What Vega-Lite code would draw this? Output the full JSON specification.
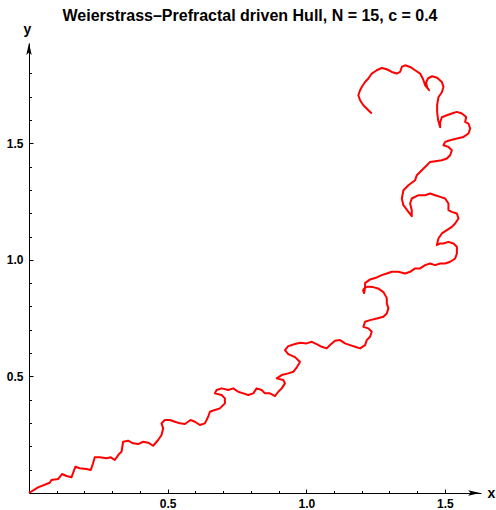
{
  "$schema": "https://vega.github.io/schema/vega-lite/v6.json",
  "autosize": "none",
  "width": 452,
  "height": 450,
  "padding": {"left": 29, "top": 43, "right": 15, "bottom": 17},
  "background": "white",
  "config": {"view": {"stroke": null}},
  "title": {
    "text": "Weierstrass–Prefractal driven Hull, N = 15, c = 0.4",
    "font": "Liberation Sans",
    "fontSize": 16,
    "fontWeight": "bold",
    "color": "black",
    "anchor": "middle",
    "frame": "group",
    "offset": -2,
    "dx": -5
  },
  "datasets": {
    "curve": [
      {"i":1,"x":0,"y":0},{"i":2,"x":0.0325,"y":0.0244},{"i":3,"x":0.0747,"y":0.0441},{"i":4,"x":0.0809,"y":0.0557},
      {"i":5,"x":0.1047,"y":0.06},{"i":6,"x":0.1191,"y":0.0814},{"i":7,"x":0.135,"y":0.0729},{"i":8,"x":0.1531,"y":0.0673},
      {"i":9,"x":0.1675,"y":0.1127},{"i":10,"x":0.183,"y":0.1059},{"i":11,"x":0.2072,"y":0.1029},{"i":12,"x":0.2227,"y":0.0986},
      {"i":13,"x":0.231,"y":0.1273},{"i":14,"x":0.2372,"y":0.153},{"i":15,"x":0.2552,"y":0.153},{"i":16,"x":0.2794,"y":0.1487},
      {"i":17,"x":0.2949,"y":0.153},{"i":18,"x":0.3094,"y":0.1414},{"i":19,"x":0.3238,"y":0.1659},{"i":20,"x":0.3336,"y":0.177},
      {"i":21,"x":0.3394,"y":0.2199},{"i":22,"x":0.3574,"y":0.2242},{"i":23,"x":0.3755,"y":0.213},{"i":24,"x":0.3935,"y":0.21},
      {"i":25,"x":0.4116,"y":0.2199},{"i":26,"x":0.4296,"y":0.2156},{"i":27,"x":0.4477,"y":0.2027},{"i":28,"x":0.4657,"y":0.2272},
      {"i":29,"x":0.478,"y":0.2486},{"i":30,"x":0.4838,"y":0.2773},{"i":31,"x":0.478,"y":0.2988},{"i":32,"x":0.4899,"y":0.3129},
      {"i":33,"x":0.5079,"y":0.3129},{"i":34,"x":0.526,"y":0.3056},{"i":35,"x":0.544,"y":0.2988},{"i":36,"x":0.5621,"y":0.2958},
      {"i":37,"x":0.5827,"y":0.3129},{"i":38,"x":0.5982,"y":0.3056},{"i":39,"x":0.6162,"y":0.2915},{"i":40,"x":0.6343,"y":0.2988},
      {"i":41,"x":0.6462,"y":0.327},{"i":42,"x":0.6523,"y":0.3485},{"i":43,"x":0.6704,"y":0.3558},{"i":44,"x":0.6884,"y":0.3631},
      {"i":45,"x":0.7065,"y":0.3845},{"i":46,"x":0.7065,"y":0.4059},{"i":47,"x":0.6946,"y":0.4201},{"i":48,"x":0.6704,"y":0.4273},
      {"i":49,"x":0.6765,"y":0.4415},{"i":50,"x":0.6946,"y":0.4488},{"i":51,"x":0.7184,"y":0.4415},{"i":52,"x":0.7365,"y":0.4488},
      {"i":53,"x":0.7545,"y":0.4342},{"i":54,"x":0.7726,"y":0.4273},{"i":55,"x":0.7906,"y":0.4201},{"i":56,"x":0.8087,"y":0.4273},
      {"i":57,"x":0.8209,"y":0.4488},{"i":58,"x":0.839,"y":0.4415},{"i":59,"x":0.851,"y":0.4273},{"i":60,"x":0.869,"y":0.4273},
      {"i":61,"x":0.887,"y":0.4158},{"i":62,"x":0.8989,"y":0.4342},{"i":63,"x":0.9112,"y":0.4488},{"i":64,"x":0.9231,"y":0.4702},
      {"i":65,"x":0.917,"y":0.4844},{"i":66,"x":0.8932,"y":0.4916},{"i":67,"x":0.9112,"y":0.5058},{"i":68,"x":0.935,"y":0.5131},
      {"i":69,"x":0.9531,"y":0.5199},{"i":70,"x":0.9664,"y":0.5401},{"i":71,"x":0.9773,"y":0.5615},{"i":72,"x":0.9592,"y":0.5829},
      {"i":73,"x":0.935,"y":0.5958},{"i":74,"x":0.9231,"y":0.6129},{"i":75,"x":0.935,"y":0.6301},{"i":76,"x":0.9592,"y":0.6387},
      {"i":77,"x":0.9776,"y":0.6442},{"i":78,"x":1.0014,"y":0.6417},{"i":79,"x":1.0195,"y":0.6485},{"i":80,"x":1.0375,"y":0.6387},
      {"i":81,"x":1.0556,"y":0.6271},{"i":82,"x":1.0736,"y":0.6202},{"i":83,"x":1.0856,"y":0.6344},{"i":84,"x":1.1036,"y":0.6528},
      {"i":85,"x":1.1217,"y":0.6558},{"i":86,"x":1.1397,"y":0.6417},{"i":87,"x":1.1578,"y":0.6344},{"i":88,"x":1.1758,"y":0.6271},
      {"i":89,"x":1.1939,"y":0.6202},{"i":90,"x":1.2119,"y":0.6344},{"i":91,"x":1.2181,"y":0.6558},{"i":92,"x":1.23,"y":0.67},
      {"i":93,"x":1.2361,"y":0.6914},{"i":94,"x":1.2238,"y":0.7059},{"i":95,"x":1.2058,"y":0.7128},{"i":96,"x":1.2119,"y":0.7342},
      {"i":97,"x":1.23,"y":0.7415},{"i":98,"x":1.2542,"y":0.7488},{"i":99,"x":1.278,"y":0.7557},{"i":100,"x":1.2903,"y":0.7702},
      {"i":101,"x":1.296,"y":0.7917},{"i":102,"x":1.2903,"y":0.8131},{"i":103,"x":1.2903,"y":0.8358},{"i":104,"x":1.278,"y":0.8616},
      {"i":105,"x":1.2589,"y":0.8774},{"i":106,"x":1.2408,"y":0.883},{"i":107,"x":1.2227,"y":0.8851},{"i":108,"x":1.2119,"y":0.8808},
      {"i":109,"x":1.2047,"y":0.8701},{"i":110,"x":1.2083,"y":0.8573},{"i":111,"x":1.2119,"y":0.8787},{"i":112,"x":1.2119,"y":0.9001},
      {"i":113,"x":1.23,"y":0.916},{"i":114,"x":1.2542,"y":0.9246},{"i":115,"x":1.2722,"y":0.9344},{"i":116,"x":1.2903,"y":0.9416},
      {"i":117,"x":1.3083,"y":0.9486},{"i":118,"x":1.3321,"y":0.9486},{"i":119,"x":1.3563,"y":0.9416},{"i":120,"x":1.3744,"y":0.9486},
      {"i":121,"x":1.3924,"y":0.9631},{"i":122,"x":1.4105,"y":0.9631},{"i":123,"x":1.4285,"y":0.9774},{"i":124,"x":1.4466,"y":0.9846},
      {"i":125,"x":1.4646,"y":0.9774},{"i":126,"x":1.4827,"y":0.9846},{"i":127,"x":1.5007,"y":0.9846},{"i":128,"x":1.5188,"y":0.9917},
      {"i":129,"x":1.5368,"y":1.0059},{"i":130,"x":1.543,"y":1.0273},{"i":131,"x":1.543,"y":1.0558},{"i":132,"x":1.5307,"y":1.07},
      {"i":133,"x":1.5126,"y":1.0772},{"i":134,"x":1.4946,"y":1.0703},{"i":135,"x":1.4827,"y":1.0703},{"i":136,"x":1.4708,"y":1.0631},
      {"i":137,"x":1.4765,"y":1.0917},{"i":138,"x":1.4888,"y":1.1132},{"i":139,"x":1.5069,"y":1.1273},{"i":140,"x":1.5249,"y":1.1414},
      {"i":141,"x":1.5368,"y":1.1558},{"i":142,"x":1.5487,"y":1.1773},{"i":143,"x":1.543,"y":1.1987},{"i":144,"x":1.5249,"y":1.2059},
      {"i":145,"x":1.5126,"y":1.213},{"i":146,"x":1.5126,"y":1.2416},{"i":147,"x":1.5007,"y":1.2630},{"i":148,"x":1.4827,"y":1.2702},
      {"i":149,"x":1.4646,"y":1.2773},{"i":150,"x":1.4466,"y":1.2845},{"i":151,"x":1.4285,"y":1.2773},{"i":152,"x":1.4047,"y":1.2773},
      {"i":153,"x":1.3803,"y":1.2630},{"i":154,"x":1.3744,"y":1.2416},{"i":155,"x":1.3803,"y":1.2130},{"i":156,"x":1.3803,"y":1.1873},
      {"i":157,"x":1.3682,"y":1.2059},{"i":158,"x":1.3502,"y":1.2345},{"i":159,"x":1.3444,"y":1.2630},{"i":160,"x":1.3502,"y":1.2987},
      {"i":161,"x":1.3682,"y":1.3202},{"i":162,"x":1.3924,"y":1.3416},{"i":163,"x":1.3986,"y":1.3631},{"i":164,"x":1.4166,"y":1.3845},
      {"i":165,"x":1.4347,"y":1.4059},{"i":166,"x":1.4466,"y":1.4201},{"i":167,"x":1.4708,"y":1.4243},{"i":168,"x":1.4888,"y":1.4273},
      {"i":169,"x":1.5069,"y":1.4346},{"i":170,"x":1.5188,"y":1.4488},{"i":171,"x":1.5249,"y":1.4702},{"i":172,"x":1.5126,"y":1.4843},
      {"i":173,"x":1.4946,"y":1.4916},{"i":174,"x":1.5007,"y":1.5058},{"i":175,"x":1.5188,"y":1.5131},{"i":176,"x":1.543,"y":1.5204},
      {"i":177,"x":1.5668,"y":1.5272},{"i":178,"x":1.5848,"y":1.5418},{"i":179,"x":1.591,"y":1.5632},{"i":180,"x":1.5848,"y":1.5846},
      {"i":181,"x":1.5729,"y":1.5915},{"i":182,"x":1.5765,"y":1.6129},{"i":183,"x":1.561,"y":1.6275},{"i":184,"x":1.543,"y":1.6344},
      {"i":185,"x":1.5249,"y":1.6275},{"i":186,"x":1.5069,"y":1.6202},{"i":187,"x":1.4888,"y":1.6117},{"i":188,"x":1.4827,"y":1.5902},
      {"i":189,"x":1.4827,"y":1.5688},{"i":190,"x":1.4755,"y":1.5988},{"i":191,"x":1.4718,"y":1.6331},{"i":192,"x":1.4718,"y":1.6631},
      {"i":193,"x":1.4765,"y":1.6974},{"i":194,"x":1.4888,"y":1.7188},{"i":195,"x":1.4946,"y":1.7416},{"i":196,"x":1.4888,"y":1.763},
      {"i":197,"x":1.4718,"y":1.781},{"i":198,"x":1.4538,"y":1.7874},{"i":199,"x":1.4394,"y":1.7788},{"i":200,"x":1.4321,"y":1.7617},
      {"i":201,"x":1.4357,"y":1.7402},{"i":202,"x":1.443,"y":1.7274},{"i":203,"x":1.4285,"y":1.7488},{"i":204,"x":1.4213,"y":1.7745},
      {"i":205,"x":1.4105,"y":1.799},{"i":206,"x":1.3924,"y":1.8131},{"i":207,"x":1.3744,"y":1.8273},{"i":208,"x":1.3563,"y":1.8345},
      {"i":209,"x":1.3444,"y":1.8273},{"i":210,"x":1.3383,"y":1.8058},{"i":211,"x":1.3264,"y":1.799},{"i":212,"x":1.3083,"y":1.8058},
      {"i":213,"x":1.2903,"y":1.8174},{"i":214,"x":1.2722,"y":1.823},{"i":215,"x":1.2542,"y":1.8131},{"i":216,"x":1.2361,"y":1.799},
      {"i":217,"x":1.2238,"y":1.7775},{"i":218,"x":1.2119,"y":1.763},{"i":219,"x":1.2,"y":1.7416},{"i":220,"x":1.1939,"y":1.7274},
      {"i":221,"x":1.1877,"y":1.7059},{"i":222,"x":1.1939,"y":1.6845},{"i":223,"x":1.2058,"y":1.6631},{"i":224,"x":1.2238,"y":1.6417},
      {"i":225,"x":1.2361,"y":1.6275}
    ],
    "arrows": [
      {"x": 1.627, "y": 0, "dir": "right"},
      {"x": 0, "y": 1.93, "dir": "up"}
    ]
  },
  "resolve": {"axis": {"x": "independent", "y": "independent"}},
  "layer": [
    {
      "data": {"name": "curve"},
      "mark": {"type": "line", "color": "#ff0000", "strokeWidth": 2, "strokeJoin": "round", "clip": false},
      "encoding": {
        "x": {"field": "x", "type": "quantitative",
          "scale": {"domain": [0, 1.63], "nice": false, "zero": false},
          "axis": {"orient": "bottom", "values": [0.5, 1, 1.5], "format": ".1f", "grid": false,
            "domainColor": "black", "domainWidth": 1, "tickColor": "black", "tickWidth": 1, "tickSize": -4,
            "labelFont": "Liberation Sans", "labelFontSize": 12, "labelFontWeight": "bold", "labelColor": "black",
            "labelPadding": 9, "labelFlush": false,
            "title": "x", "titleFont": "Liberation Sans", "titleFontSize": 14, "titleFontWeight": "bold", "titleColor": "black",
            "titleX": 462, "titleY": 0, "titleAlign": "center", "titleBaseline": "middle", "titleAngle": 0}},
        "y": {"field": "y", "type": "quantitative",
          "scale": {"domain": [0, 1.93], "nice": false, "zero": false},
          "axis": {"orient": "left", "values": [0.5, 1, 1.5], "format": ".1f", "grid": false,
            "domainColor": "black", "domainWidth": 1, "tickColor": "black", "tickWidth": 1, "tickSize": -4,
            "labelFont": "Liberation Sans", "labelFontSize": 12, "labelFontWeight": "bold", "labelColor": "black",
            "labelPadding": 10, "labelFlush": false,
            "title": "y", "titleFont": "Liberation Sans", "titleFontSize": 14, "titleFontWeight": "bold", "titleColor": "black",
            "titleX": -2, "titleY": -14, "titleAlign": "center", "titleBaseline": "middle", "titleAngle": 0}},
        "order": {"field": "i", "type": "quantitative"}
      }
    },
    {
      "data": {"name": "arrows"},
      "mark": {"type": "point", "filled": true, "opacity": 1, "color": "black", "size": 144, "clip": false},
      "encoding": {
        "x": {"field": "x", "type": "quantitative",
          "axis": {"orient": "bottom", "values": [0.1,0.2,0.3,0.4,0.6,0.7,0.8,0.9,1.1,1.2,1.3,1.4], "labels": false, "domain": false, "grid": false,
            "tickColor": "black", "tickWidth": 1, "tickSize": -2.5, "title": null}},
        "y": {"field": "y", "type": "quantitative",
          "axis": {"orient": "left", "values": [0.1,0.2,0.3,0.4,0.6,0.7,0.8,0.9,1.1,1.2,1.3,1.4,1.6,1.7,1.8], "labels": false, "domain": false, "grid": false,
            "tickColor": "black", "tickWidth": 1, "tickSize": -2.5, "title": null}},
        "shape": {"field": "dir", "type": "nominal", "legend": null,
          "scale": {"domain": ["right", "up"], "range": ["M0,0L-2,-0.45L-1.6,0L-2,0.45Z", "M0,0L-0.45,2L0,1.6L0.45,2Z"]}}
      }
    }
  ]
}
